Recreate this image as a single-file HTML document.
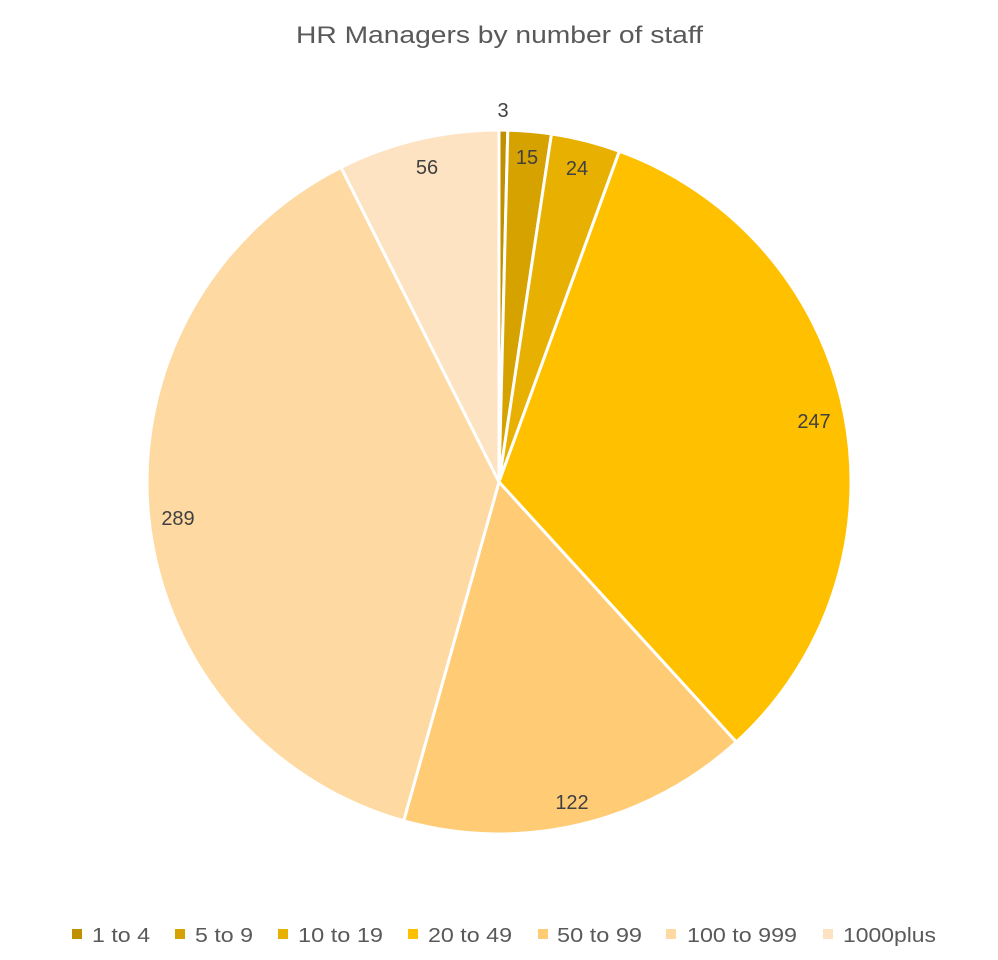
<!DOCTYPE html>
<html><head><meta charset="utf-8"><style>
body{margin:0;background:#fff;}
svg{display:block;font-family:"Liberation Sans",sans-serif;}
</style></head><body>
<svg width="998" height="960" viewBox="0 0 998 960">
<rect width="998" height="960" fill="#fff"/>
<text x="296" y="43" font-size="24" fill="#595959" textLength="407" lengthAdjust="spacingAndGlyphs">HR Managers by number of staff</text>
<g stroke="#fff" stroke-width="3" stroke-linejoin="round">
<path d="M499,482 L499,130 A352,352 0 0 1 507.8,130.1 Z" fill="#bf9000"/>
<path d="M499,482 L507.8,130.1 A352,352 0 0 1 551.5,133.9 Z" fill="#d6a200"/>
<path d="M499,482 L551.5,133.9 A352,352 0 0 1 619.4,151.2 Z" fill="#e8b000"/>
<path d="M499,482 L619.4,151.2 A352,352 0 0 1 736.3,742.0 Z" fill="#ffc000"/>
<path d="M499,482 L736.3,742.0 A352,352 0 0 1 403.7,820.8 Z" fill="#ffcc75"/>
<path d="M499,482 L403.7,820.8 A352,352 0 0 1 341.0,167.4 Z" fill="#fed9a1"/>
<path d="M499,482 L341.0,167.4 A352,352 0 0 1 499,130 Z" fill="#fee3c2"/>
</g>
<g font-size="20" fill="#404040" text-anchor="middle">
<text x="503" y="117">3</text>
<text x="527" y="164">15</text>
<text x="577" y="175">24</text>
<text x="814" y="428">247</text>
<text x="572" y="809">122</text>
<text x="178" y="525">289</text>
<text x="427" y="174">56</text>
</g>
<g font-size="20" fill="#595959">
<rect x="72" y="929" width="10" height="10" fill="#bf9000"/><text x="92" y="942" textLength="58" lengthAdjust="spacingAndGlyphs">1 to 4</text>
<rect x="175" y="929" width="10" height="10" fill="#d6a200"/><text x="195" y="942" textLength="58" lengthAdjust="spacingAndGlyphs">5 to 9</text>
<rect x="278" y="929" width="10" height="10" fill="#e8b000"/><text x="298" y="942" textLength="85" lengthAdjust="spacingAndGlyphs">10 to 19</text>
<rect x="408" y="929" width="10" height="10" fill="#ffc000"/><text x="428" y="942" textLength="84" lengthAdjust="spacingAndGlyphs">20 to 49</text>
<rect x="538" y="929" width="10" height="10" fill="#ffcc75"/><text x="557" y="942" textLength="85" lengthAdjust="spacingAndGlyphs">50 to 99</text>
<rect x="666" y="929" width="10" height="10" fill="#fed9a1"/><text x="687" y="942" textLength="110" lengthAdjust="spacingAndGlyphs">100 to 999</text>
<rect x="823" y="929" width="10" height="10" fill="#fee3c2"/><text x="843" y="942" textLength="93" lengthAdjust="spacingAndGlyphs">1000plus</text>
</g>
</svg>
</body></html>
